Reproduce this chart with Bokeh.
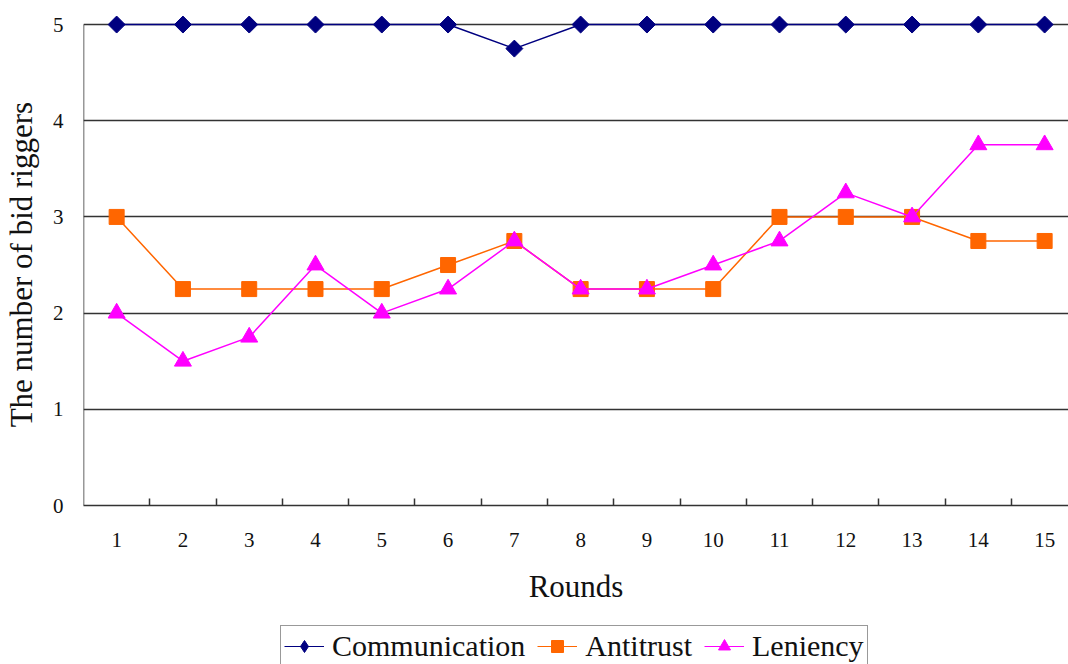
import math
from bokeh.plotting import figure
from bokeh.models import FixedTicker, Legend, LegendItem, Range1d
from bokeh.layouts import column
from bokeh.embed import file_html
from bokeh.resources import INLINE

rounds = list(range(1, 16))
communication = [5, 5, 5, 5, 5, 5, 4.75, 5, 5, 5, 5, 5, 5, 5, 5]
antitrust = [3, 2.25, 2.25, 2.25, 2.25, 2.5, 2.75, 2.25, 2.25, 2.25, 3, 3, 3, 2.75, 2.75]
leniency = [2, 1.5, 1.75, 2.5, 2, 2.25, 2.75, 2.25, 2.25, 2.5, 2.75, 3.25, 3, 3.75, 3.75]
y_ticks = [0, 1, 2, 3, 4, 5]
series_names = ["Communication", "Antitrust", "Leniency"]

FONT = "Liberation Serif"
NAVY, ORANGE, MAGENTA = "#000080", "#FF6600", "#FF00FF"
X0, X1 = 0.5, 15.36
Y0, YMAX = 0, 5

p = figure(width=1068, height=620, output_backend="svg", toolbar_location=None,
           x_range=Range1d(X0, X1), y_range=Range1d(Y0, YMAX + 0.25),
           min_border_left=82, min_border_top=0, min_border_bottom=115, min_border_right=0)
p.outline_line_color = None
p.background_fill_color = "white"
p.border_fill_color = "white"

p.xgrid.visible = False
p.ygrid.grid_line_color = "#333333"
p.ygrid.grid_line_width = 1.3
p.ygrid.ticker = FixedTicker(ticks=y_ticks)

p.xaxis.ticker = FixedTicker(ticks=rounds, minor_ticks=[r + 0.5 for r in rounds])
p.xaxis.major_tick_in = 0
p.xaxis.major_tick_out = 0
p.xaxis.minor_tick_in = 7
p.xaxis.minor_tick_out = 0
p.xaxis.minor_tick_line_color = "#333333"
p.xaxis.minor_tick_line_width = 1.5
p.xaxis.major_label_standoff = 27
p.xaxis.axis_label = "Rounds"
p.xaxis.axis_label_standoff = 19
p.xaxis.axis_line_color = "#333333"
p.xaxis.axis_line_width = 1.5

p.yaxis.ticker = FixedTicker(ticks=y_ticks)
p.yaxis.major_tick_in = 0
p.yaxis.major_tick_out = 0
p.yaxis.minor_tick_line_color = None
p.yaxis.major_label_standoff = 20
# trailing no-break spaces centre the rotated title on the 0..5 span
p.yaxis.axis_label = "The number of bid riggers" + "\u00a0" * 3
p.yaxis.axis_label_standoff = 11
p.yaxis.axis_line_color = None

for ax in (p.xaxis, p.yaxis):
    ax.major_label_text_font = FONT
    ax.major_label_text_font_size = "21px"
    ax.major_label_text_color = "#111111"
    ax.axis_label_text_font = FONT
    ax.axis_label_text_font_size = "31px"
    ax.axis_label_text_font_style = "normal"
    ax.axis_label_text_color = "#111111"

# y axis line, only up to the top tick
p.segment(x0=[X0], y0=[Y0], x1=[X0], y1=[YMAX], line_color="#333333", line_width=1.5)

p.line(rounds, communication, line_color=NAVY, line_width=1.5)
p.scatter(rounds, communication, marker="square", angle=math.pi / 4, size=12,
          fill_color=NAVY, line_color=NAVY)
p.line(rounds, antitrust, line_color=ORANGE, line_width=1.5)
p.scatter(rounds, antitrust, marker="square", size=15, fill_color=ORANGE, line_color=ORANGE)
p.line(rounds, leniency, line_color=MAGENTA, line_width=1.5)
p.scatter(rounds, leniency, marker="triangle", size=17, fill_color=MAGENTA, line_color=MAGENTA)

# legend strip below the chart (its own renderers lie outside its visible range)
q = figure(width=1068, height=44, output_backend="svg", toolbar_location=None,
           x_range=Range1d(-100, -99), y_range=Range1d(-100, -99),
           x_axis_location=None, y_axis_location=None,
           min_border_left=0, min_border_right=0, min_border_top=0, min_border_bottom=0)
q.outline_line_color = None
q.grid.visible = False
q.border_fill_color = "white"

ql1 = q.line(rounds, communication, line_color=NAVY, line_width=1.2)
qs1 = q.scatter(rounds, communication, marker="diamond", size=18, fill_color=NAVY, line_color=NAVY)
ql2 = q.line(rounds, antitrust, line_color=ORANGE, line_width=1.2)
qs2 = q.scatter(rounds, antitrust, marker="square", size=17, fill_color=ORANGE, line_color=ORANGE)
ql3 = q.line(rounds, leniency, line_color=MAGENTA, line_width=1.2)
qs3 = q.scatter(rounds, leniency, marker="triangle", size=19, fill_color=MAGENTA, line_color=MAGENTA)

legend = Legend(items=[
    LegendItem(label=series_names[0], renderers=[ql1, qs1]),
    LegendItem(label=series_names[1], renderers=[ql2, qs2]),
    LegendItem(label=series_names[2], renderers=[ql3, qs3]),
], orientation="horizontal", location=(197, -3))
legend.label_text_font = FONT
legend.label_text_font_size = "30px"
legend.label_text_color = "#111111"
legend.glyph_width = 40
legend.glyph_height = 30
legend.spacing = 12
legend.padding = 3
legend.margin = 0
legend.label_standoff = 8
legend.border_line_color = "#333333"
legend.border_line_width = 1.5
legend.background_fill_alpha = 1
q.add_layout(legend, "center")

layout = column(p, q, spacing=0)
open("out.html", "w").write(file_html(layout, INLINE))
